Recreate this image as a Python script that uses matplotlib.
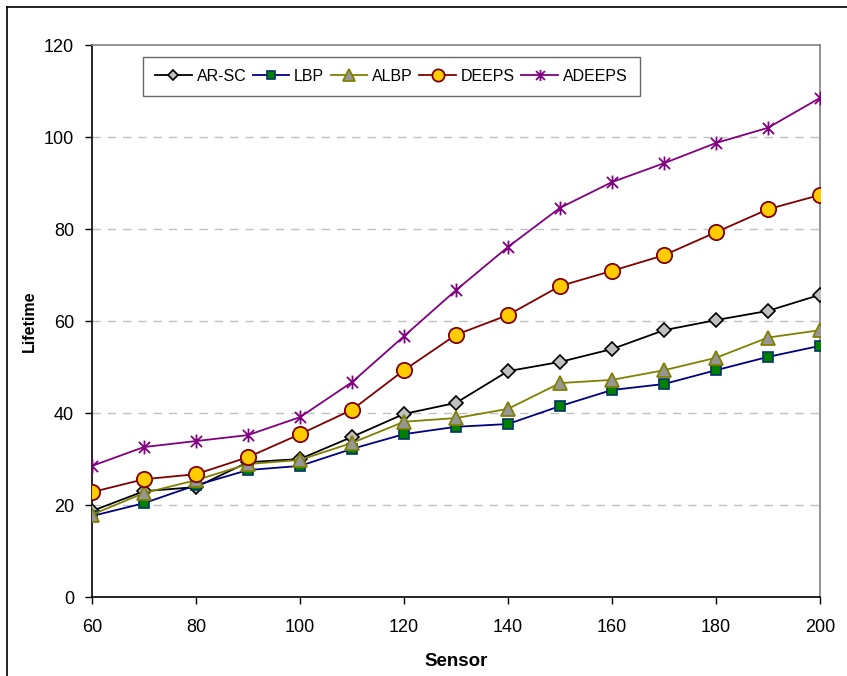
import numpy as np
import matplotlib.pyplot as plt
import matplotlib as mpl
from matplotlib.path import Path
from matplotlib.lines import Line2D

mpl.rcParams['font.family'] = ['Liberation Sans', 'DejaVu Sans']

sensors = [60, 70, 80, 90, 100, 110, 120, 130, 140, 150, 160, 170, 180, 190, 200]
ar_sc = [18.7, 23.0, 23.9, 29.3, 30.0, 34.8, 39.8, 42.2, 49.1, 51.1, 53.9, 58.0, 60.2, 62.2, 65.7]
lbp = [17.6, 20.4, 24.3, 27.6, 28.5, 32.2, 35.4, 37.0, 37.6, 41.5, 45.0, 46.3, 49.3, 52.2, 54.6]
albp = [17.9, 22.6, 25.4, 28.9, 29.8, 33.5, 38.1, 38.9, 40.9, 46.5, 47.2, 49.3, 52.0, 56.4, 58.0]
deeps = [22.8, 25.6, 26.7, 30.4, 35.4, 40.7, 49.3, 57.0, 61.3, 67.6, 70.9, 74.3, 79.3, 84.3, 87.4]
adeeps = [28.5, 32.6, 33.9, 35.2, 39.1, 46.7, 56.7, 66.7, 76.1, 84.6, 90.2, 94.3, 98.7, 102.0, 108.5]

# Excel-style star: vertical bar plus an x
star = Path([(0, -1), (0, 1), (-0.8, -0.8), (0.8, 0.8), (-0.8, 0.8), (0.8, -0.8)],
            [Path.MOVETO, Path.LINETO, Path.MOVETO, Path.LINETO, Path.MOVETO, Path.LINETO])

fig = plt.figure(figsize=(8.47, 6.76), dpi=100)
ax = fig.add_axes([92 / 847, 1 - 597 / 676, (820 - 92) / 847, (597 - 45) / 676])

ax.plot(sensors, ar_sc, color='black', lw=1.3, marker='D', ms=7,
        mfc='#C0C0C0', mec='black', mew=1.2, label='AR-SC', zorder=3)
ax.plot(sensors, lbp, color='#000080', lw=1.3, marker='s', ms=7,
        mfc='#008000', mec='#003366', mew=1.2, label='LBP', zorder=3)
ax.plot(sensors, albp, color='#808000', lw=1.3, marker='^', ms=10,
        mfc='#969696', mec='#808000', mew=1.3, label='ALBP', zorder=3)
ax.plot(sensors, deeps, color='#800000', lw=1.3, marker='o', ms=11,
        mfc='#FFCC00', mec='#800000', mew=1.3, label='DEEPS', zorder=3)
ax.plot(sensors, adeeps, color='#800080', lw=1.3, marker=star, ms=10,
        mfc='none', mec='#800080', mew=1.3, label='ADEEPS', zorder=3)

ax.set_xlim(60, 200)
ax.set_ylim(0, 120)
ax.set_xticks(np.arange(60, 201, 20))
ax.set_yticks(np.arange(0, 121, 20))
ax.tick_params(axis='both', labelsize=13, length=5, width=1, direction='out')
ax.tick_params(axis='x', pad=11)
ax.tick_params(axis='y', pad=8)
for y in range(20, 120, 20):
    ax.axhline(y, color='#C0C0C0', lw=1, ls=(0, (6, 5)), zorder=1)

ax.spines['left'].set_color('black')
ax.spines['bottom'].set_color('black')
ax.spines['top'].set_color('#808080')
ax.spines['right'].set_color('#808080')
for s in ax.spines.values():
    s.set_linewidth(1.2)

ax.set_xlabel('Sensor', fontsize=13.5, fontweight='bold', labelpad=12)
ax.set_ylabel('Lifetime', fontsize=11.5, fontweight='bold', labelpad=5)

leg = ax.legend(loc='upper left', bbox_to_anchor=((143 - 92) / 728, (597 - 57) / 552), ncol=5,
                fontsize=11.5, frameon=True, fancybox=False, edgecolor='#404040',
                handlelength=2.3, handletextpad=0.3, columnspacing=0.4, borderpad=0.75,
                borderaxespad=0, markerscale=0.8)
leg.get_frame().set_linewidth(1.0)

# outer chart border (left/top visible)
fig.add_artist(Line2D([7 / 847, 7 / 847], [0, 1 - 7 / 676], color='black', lw=1.2))
fig.add_artist(Line2D([7 / 847, 1], [1 - 7 / 676, 1 - 7 / 676], color='black', lw=1.2))

fig.savefig('out.png', dpi=100)
